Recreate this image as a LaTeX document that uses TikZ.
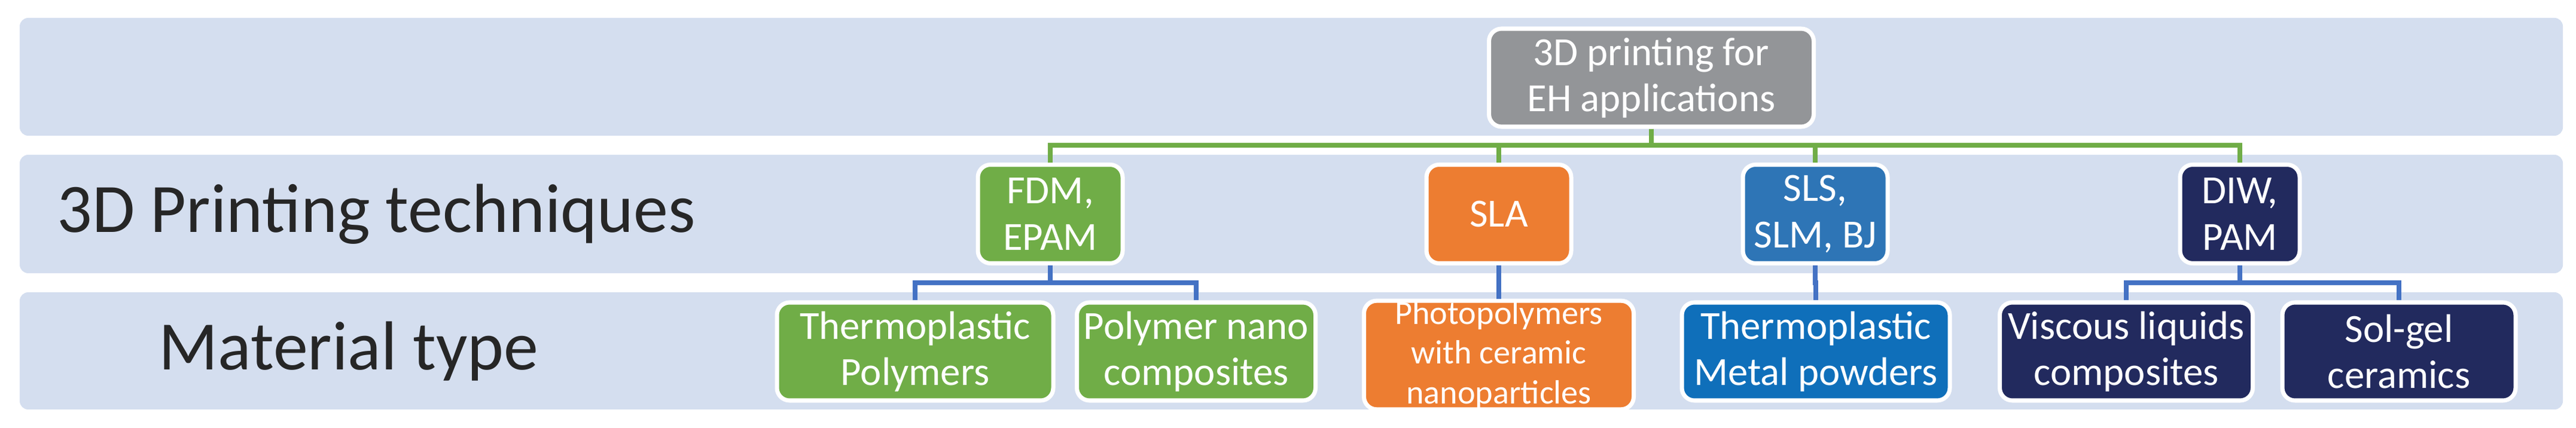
\documentclass[tikz,border=0pt]{standalone}
\usepackage{fontspec}
\setmainfont{Carlito}
\usetikzlibrary{positioning}
\definecolor{bandc}{HTML}{D4DEEF}
\definecolor{greyc}{HTML}{939598}
\definecolor{greenc}{HTML}{70AD47}
\definecolor{orangec}{HTML}{ED7D31}
\definecolor{bluec}{HTML}{2E75B6}
\definecolor{blued}{HTML}{0F6FBA}
\definecolor{navyc}{HTML}{222A5E}
\definecolor{linec}{HTML}{4472C4}

\begin{document}
\begin{tikzpicture}[
    band/.style={fill=bandc, rounded corners=4pt},
    box/.style={draw=white, line width=2pt, rounded corners=6pt, text=white,
        align=center, font=\fontsize{19}{22}\selectfont, inner sep=0pt},
    lvltext/.style={font=\fontsize{33}{38}\selectfont, text=black!85},
    gline/.style={draw=greenc, line width=2.2pt},
    bline/.style={draw=linec, line width=2.2pt}]
   \useasboundingbox (0,0) rectangle (43.07,7.16);

   % Bands
   \fill[band] (0.33,4.89) rectangle (42.85,6.86);
   \fill[band] (0.33,2.59) rectangle (42.85,4.57);
   \fill[band] (0.33,0.31) rectangle (42.85,2.27);
   \node[lvltext] (lvlt) at (6.29,3.58) {3D Printing techniques};
   \node[lvltext] (lvlm) at (5.83,1.28) {Material type};

   % Bus lines
   \coordinate (busg) at (27.61,4.73);
   \coordinate (busb) at (0,2.43);

   % Root
   \node[box, fill=greyc, minimum width=5.43cm, minimum height=1.64cm] (root) at (27.61,5.86) {3D printing for\\EH applications};

   % Techniques
   \node[box, fill=greenc, minimum width=2.42cm, minimum height=1.65cm] (fdm) at (17.56,3.58) {FDM,\\EPAM};
   \node[box, fill=orangec, minimum width=2.42cm, minimum height=1.65cm] (sla) at (25.06,3.58) {SLA};
   \node[box, fill=bluec, minimum width=2.42cm, minimum height=1.65cm] (sls) at (30.35,3.58) {SLS,\\SLM, BJ};
   \node[box, fill=navyc, minimum width=2.0cm, minimum height=1.65cm] (diw) at (37.45,3.58) {DIW,\\PAM};

   % Materials
   \node[box, fill=greenc, minimum width=4.62cm, minimum height=1.64cm] (tpoly) at (15.30,1.28) {Thermoplastic\\Polymers};
   \node[box, fill=greenc, minimum width=3.99cm, minimum height=1.64cm] (pnano) at (20.00,1.28) {Polymer nano\\composites};
   \node[box, fill=orangec, minimum width=4.51cm, minimum height=1.75cm, font=\fontsize{16}{19}\selectfont] (photo) at (25.06,1.22) {Photopolymers\\with ceramic\\nanoparticles};
   \node[box, fill=blued, minimum width=4.48cm, minimum height=1.64cm] (tmetal) at (30.36,1.28) {Thermoplastic\\Metal powders};
   \node[box, fill=navyc, minimum width=4.23cm, minimum height=1.64cm] (visc) at (35.55,1.28) {Viscous liquids\\composites};
   \node[box, fill=navyc, minimum width=3.90cm, minimum height=1.64cm] (solgel) at (40.11,1.28) {Sol-gel\\ceramics};

   % Connectors
   \foreach \t in {fdm, sla, sls, diw}
      \draw[gline] (root.south) -- (root.south |- busg) -| (\t.north);
   \foreach \p/\c in {fdm/tpoly, fdm/pnano, sla/photo, sls/tmetal, diw/visc, diw/solgel}
      \draw[bline] (\p.south) -- (\p.south |- busb) -| (\c.north);
\end{tikzpicture}
\end{document}
